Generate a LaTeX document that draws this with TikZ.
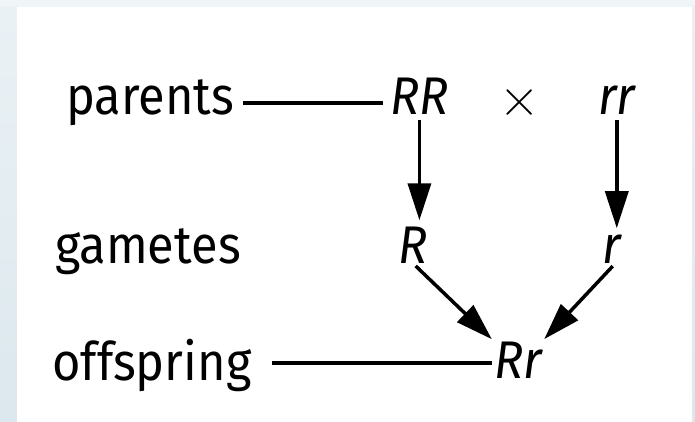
\documentclass[tikz,border=0pt]{standalone}
\usepackage{fontspec}
\setmainfont[FakeStretch=0.92]{Fira Sans}
\newfontfamily\crossfont{Latin Modern Roman}
\usetikzlibrary{arrows.meta}
\definecolor{bgtop}{HTML}{F0F5F8}
\definecolor{bgleftA}{HTML}{EAF1F5}
\definecolor{bgleftB}{HTML}{DCE8EE}
\begin{document}
\begin{tikzpicture}[x=1pt,y=-1pt,
  lbl/.style={inner sep=0pt, anchor=base west, font=\fontsize{53}{60}\selectfont},
  sym/.style={inner sep=0pt, anchor=base west, font=\fontsize{53}{60}\selectfont\itshape},
  crosssym/.style={inner sep=0pt, anchor=center, font=\crossfont\fontsize{56}{64}\selectfont},
  conn/.style={line width=3.5pt},
  arr/.style={line width=3.5pt, -{Triangle[length=37pt,width=23pt]}}]
\useasboundingbox (0,0) rectangle (695,422);
\fill[bgtop] (0,0) rectangle (695,422);
\shade[top color=bgleftA, bottom color=bgleftB] (0,7) rectangle (17,422);
\shade[top color=bgleftA, bottom color=bgleftB] (692,7) rectangle (695,422);
\fill[white] (17,7) rectangle (692,422);
% labels
\node[lbl] (parents) at (66,115) {parents};
\node[lbl] (gametes) at (55,263) {gametes};
\node[lbl] (offspring) at (52,380) {offspring};
% symbols
\node[sym] (RR) at (390,115) {RR};
\node[crosssym] (cross) at (520,103) {×};
\node[sym] (rr) at (598,115) {rr};
\node[sym] (R) at (398,263) {R};
\node[sym] (r) at (602,263) {r};
\node[sym] (Rr) at (494,378) {Rr};
% connectors
\draw[conn] ([xshift=9pt]parents.east |- 0,103) -- ([xshift=-7pt]RR.west |- 0,103);
\draw[conn] ([xshift=20pt]offspring.east |- 0,363) -- ([xshift=-2pt]Rr.west |- 0,363);
\draw[arr, shorten <=5pt, shorten >=6pt] (RR.south) -- (RR.south |- R.north);
\draw[arr, shorten <=5pt, shorten >=6pt] (rr.south) -- (rr.south |- r.north);
\draw[arr, shorten <=4pt, shorten >=3pt] (R.south) -- (Rr.north west);
\draw[arr, shorten <=4pt, shorten >=3pt] ([xshift=4pt]r.south) -- (Rr.north east);
\end{tikzpicture}
\end{document}
